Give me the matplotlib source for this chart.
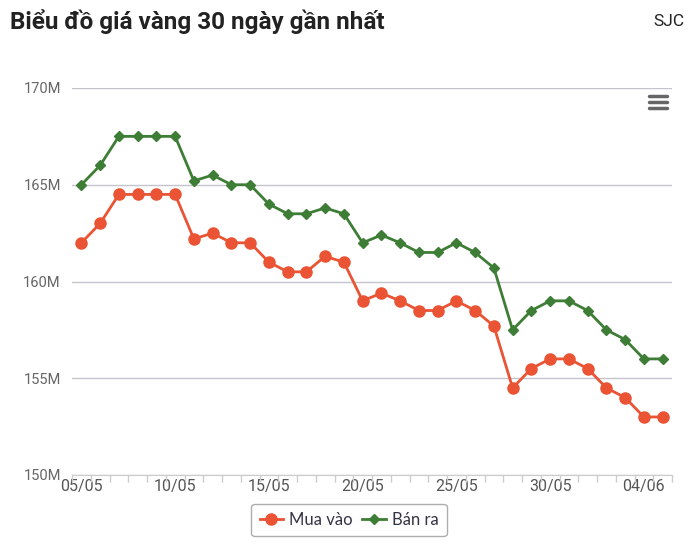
import matplotlib.pyplot as plt
from matplotlib.lines import Line2D

# ngay 05/05 -> 05/06
days = ["05/05", "06/05", "07/05", "08/05", "09/05", "10/05", "11/05", "12/05",
        "13/05", "14/05", "15/05", "16/05", "17/05", "18/05", "19/05", "20/05",
        "21/05", "22/05", "23/05", "24/05", "25/05", "26/05", "27/05", "28/05",
        "29/05", "30/05", "31/05", "01/06", "02/06", "03/06", "04/06", "05/06"]

mua_vao = [162.0, 163.0, 164.5, 164.5, 164.5, 164.5, 162.2, 162.5,
           162.0, 162.0, 161.0, 160.5, 160.5, 161.3, 161.0, 159.0,
           159.4, 159.0, 158.5, 158.5, 159.0, 158.5, 157.7, 154.5,
           155.5, 156.0, 156.0, 155.5, 154.5, 154.0, 153.0, 153.0]

ban_ra = [165.0, 166.0, 167.5, 167.5, 167.5, 167.5, 165.2, 165.5,
          165.0, 165.0, 164.0, 163.5, 163.5, 163.8, 163.5, 162.0,
          162.4, 162.0, 161.5, 161.5, 162.0, 161.5, 160.7, 157.5,
          158.5, 159.0, 159.0, 158.5, 157.5, 157.0, 156.0, 156.0]

y_ticks = [150, 155, 160, 165, 170]

red = "#ea5334"
green = "#3e7d35"

plt.rcParams['font.family'] = ['Roboto', 'DejaVu Sans']

fig = plt.figure(figsize=(7, 5.44), dpi=100)
ax = fig.add_axes([72 / 700, 1 - 475 / 544, 600 / 700, 387 / 544])

x = list(range(len(days)))
ax.plot(x, mua_vao, color=red, lw=2, marker="o", ms=8, label="Mua vào", zorder=3)
ax.plot(x, ban_ra, color=green, lw=2, marker="D", ms=5.5, label="Bán ra", zorder=3)

ax.set_xlim(-0.5, len(days) - 0.5)
ax.set_ylim(150, 170)
ax.set_yticks(y_ticks)
ax.set_yticklabels([f"{v}M" for v in y_ticks])
ax.set_xticks(x[::5])
ax.set_xticklabels(days[::5])
ax.set_xticks([i - 0.5 for i in range(len(days) + 1)], minor=True)

ax.grid(axis="y", color="#c4c4cc", lw=1)
ax.set_axisbelow(True)
for s in ["top", "right", "left"]:
    ax.spines[s].set_visible(False)
ax.spines["bottom"].set_color("#cccccc")
ax.tick_params(axis="y", length=0, labelsize=10.5, labelcolor="#666666", pad=8)
ax.tick_params(axis="x", which="major", length=0, labelsize=11.5, labelcolor="#555555", pad=3)
ax.tick_params(axis="x", which="minor", length=5, color="#cccccc", width=1)

fig.text(10 / 700, 1 - 22 / 544, "Biểu đồ giá vàng 30 ngày gần nhất", fontsize=17.5,
         fontweight="bold", color="#222222", va="center", ha="left")
fig.text(685 / 700, 1 - 22 / 544, "SJC", fontsize=12.5, color="#222222", va="center", ha="right")

# menu icon
for yy in [96, 102, 108]:
    fig.add_artist(Line2D([649 / 700, 667 / 700], [1 - yy / 544, 1 - yy / 544],
                          color="#666666", lw=2.5, solid_capstyle="round"))

leg = fig.legend(loc="center", bbox_to_anchor=(349 / 700, 1 - 520 / 544), ncol=2,
                 frameon=True, fancybox=True, edgecolor="#999999",
                 handlelength=1.4, columnspacing=0.6, handletextpad=0.35,
                 borderpad=0.5,
                 prop={'family': ['Lato', 'DejaVu Sans'], 'size': 12})
leg.get_frame().set_linewidth(1)
for t in leg.get_texts():
    t.set_color("#333344")

fig.savefig("out.png", dpi=100)
